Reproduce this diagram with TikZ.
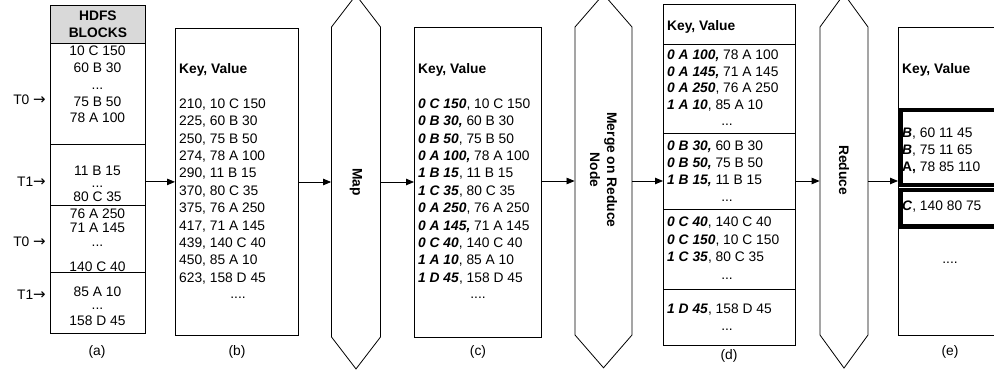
\documentclass[tikz,border=0pt]{standalone}
\usepackage{fontspec}
\setmainfont{Liberation Sans}
\newfontfamily\arrowfont{DejaVu Sans}
\usetikzlibrary{arrows.meta,shapes.symbols}
\newcommand{\keyb}[1]{\textbf{\textit{#1}}}
\newcommand{\tarrow}{{\arrowfont\fontsize{15}{16}\selectfont →}}

\begin{document}
\begin{tikzpicture}[x=1pt, y=-1pt,
    font=\fontsize{13.8}{17.4}\selectfont,
    box/.style={draw, line width=0.8pt, inner sep=0pt, anchor=north west},
    heavy/.style={draw, line width=4.5pt, inner sep=0pt, anchor=north west},
    hexa/.style={draw, line width=0.8pt, shape=signal, signal to=north and south, inner sep=0pt},
    hextxt/.style={rotate=-90, align=center, inner sep=0pt, font=\fontsize{13.8}{17}\selectfont\bfseries},
    txt/.style={inner sep=0pt, align=left, anchor=north west},
    ctxt/.style={inner sep=0pt, align=center, anchor=north},
    dots/.style={inner sep=0pt, anchor=base},
    flow/.style={-{Triangle[length=8pt,width=6.5pt]}, line width=0.8pt}]
    \useasboundingbox (0,0) rectangle (994,377);

    % (a) hdfs blocks
    \node[box, fill=black!15, align=center, minimum width=95, minimum height=38] (hdfs) at (50,5) {\textbf{HDFS}\\\textbf{BLOCKS}};
    \node[box, minimum width=95, minimum height=101] (blk1) at (50,43) {};
    \node[box, minimum width=95, minimum height=61] (blk2) at (50,144) {};
    \node[box, minimum width=95, minimum height=67] (blk3) at (50,205) {};
    \node[box, minimum width=95, minimum height=61] (blk4) at (50,272) {};
    \node[ctxt, font=\fontsize{13.8}{16.75}\selectfont] (blk1txt) at (97.5,46) {10 C 150\\60 B 30\\...\\75 B 50\\78 A 100};
    \node[ctxt, font=\fontsize{13.8}{14}\selectfont] (blk2txt) at (97.5,166) {11 B 15\\[-2pt]...\\80 C 35};
    \node[ctxt, font=\fontsize{13.8}{14}\selectfont] (blk3txt) at (97.5,209) {76 A 250\\71 A 145\\...\\[11pt]140 C 40};
    \node[ctxt, font=\fontsize{13.8}{14}\selectfont] (blk4txt) at (97.5,287) {85 A 10\\[-1pt]...\\[2pt]158 D 45};
    \node[anchor=east, inner sep=0pt] (t0a) at (46,100) {T0 \tarrow};
    \node[anchor=east, inner sep=0pt] (t1a) at (46,182) {T1\tarrow};
    \node[anchor=east, inner sep=0pt] (t0b) at (46,242) {T0 \tarrow};
    \node[anchor=east, inner sep=0pt] (t1b) at (46,295) {T1\tarrow};

    % (b) map input
    \node[box, minimum width=123, minimum height=307] (bkv) at (175,28) {};
    \node[txt] (bkvtxt) at (179,63) {\textbf{Key, Value}\\[17.6pt]
        210, 10 C 150\\225, 60 B 30\\250, 75 B 50\\274, 78 A 100\\290, 11 B 15\\370, 80 C 35\\
        375, 76 A 250\\417, 71 A 145\\439, 140 C 40\\450, 85 A 10\\623, 158 D 45};
    \node[dots] (bdots) at (238,298) {....};

    % (c) map output
    \node[box, minimum width=127, minimum height=310] (ckv) at (414,27) {};
    \node[txt] (ckvtxt) at (418,63) {\textbf{Key, Value}\\[17.6pt]
        \keyb{0 C 150}, 10 C 150\\\keyb{0 B 30,} 60 B 30\\\keyb{0 B 50}, 75 B 50\\\keyb{0 A 100,} 78 A 100\\
        \keyb{1 B 15}, 11 B 15\\\keyb{1 C 35}, 80 C 35\\\keyb{0 A 250}, 76 A 250\\\keyb{0 A 145,} 71 A 145\\
        \keyb{0 C 40}, 140 C 40\\\keyb{1 A 10}, 85 A 10\\\keyb{1 D 45}, 158 D 45};
    \node[dots] (cdots) at (478,298) {....};

    % (d) merged groups
    \node[box, minimum width=132, minimum height=40] (dhead) at (663,4) {};
    \node[box, minimum width=132, minimum height=89] (dg1) at (663,44) {};
    \node[box, minimum width=132, minimum height=76] (dg2) at (663,133) {};
    \node[box, minimum width=132, minimum height=80] (dg3) at (663,209) {};
    \node[box, minimum width=132, minimum height=56] (dg4) at (663,289) {};
    \node[txt] (dheadtxt) at (667,20) {\textbf{Key, Value}};
    \node[txt, font=\fontsize{13.8}{16.5}\selectfont] (dg1txt) at (667,50) {\keyb{0 A 100,} 78 A 100\\\keyb{0 A 145,} 71 A 145\\\keyb{0 A 250}, 76 A 250\\\keyb{1 A 10}, 85 A 10};
    \node[txt, font=\fontsize{13.8}{17}\selectfont] (dg2txt) at (667,141) {\keyb{0 B 30,} 60 B 30\\\keyb{0 B 50,} 75 B 50\\\keyb{1 B 15,} 11 B 15};
    \node[txt, font=\fontsize{13.8}{17.3}\selectfont] (dg3txt) at (667,217) {\keyb{0 C 40}, 140 C 40\\\keyb{0 C 150}, 10 C 150\\\keyb{1 C 35}, 80 C 35};
    \node[txt] (dg4txt) at (667,304) {\keyb{1 D 45}, 158 D 45};
    \node[dots] (d1dots) at (727,126) {...};
    \node[dots] (d2dots) at (727,201) {...};
    \node[dots] (d3dots) at (727,279) {...};
    \node[dots] (d4dots) at (727,330) {...};

    % (e) reduce output
    \node[box, minimum width=130, minimum height=308] (ekv) at (898,27) {};
    \node[heavy, minimum width=130, minimum height=75] (eab) at (898,108) {};
    \node[heavy, minimum width=130, minimum height=36] (ec) at (898,188) {};
    \node[txt] (ekvtxt) at (902,63) {\textbf{Key, Value}};
    \node[txt, font=\fontsize{13.8}{17}\selectfont] (eabtxt) at (902,128) {\keyb{B}, 60 11 45\\\keyb{B}, 75 11 65\\\textbf{A,} 78 85 110};
    \node[txt] (ectxt) at (902,201) {\keyb{C}, 140 80 75};
    \node[dots] (edots) at (950,263) {....};

    % phases
    \node[hexa, minimum width=49, minimum height=310, signal pointer angle=75] (map) at (356,182) {};
    \node[hextxt] (maptxt) at (356,182) {Map};
    \node[hexa, minimum width=57, minimum height=308, signal pointer angle=82] (merge) at (603.5,181) {};
    \node[hextxt] (mergetxt) at (603.5,170) {Merge on Reduce\\Node};
    \node[hexa, minimum width=48, minimum height=308, signal pointer angle=72] (reduce) at (844,181) {};
    \node[hextxt] (reducetxt) at (844,170) {Reduce};

    % connectors
    \draw[flow] (blk2.east |- bkv) -- (bkv);
    \draw[flow] (bkv.east |- map) -- (map);
    \draw[flow] (map) -- (ckv.west |- map);
    \draw[flow] (ckv.east |- merge) -- (merge);
    \draw[flow] (merge) -- (dg2.west |- merge);
    \draw[flow] (dg2.east |- reduce) -- (reduce);
    \draw[flow] (reduce) -- (ekv.west |- reduce);

    % captions
    \node (capa) at (97,352) {(a)};
    \node (capb) at (237,352) {(b)};
    \node (capc) at (478,352) {(c)};
    \node (capd) at (729,356) {(d)};
    \node (cape) at (950,352) {(e)};
\end{tikzpicture}
\end{document}
